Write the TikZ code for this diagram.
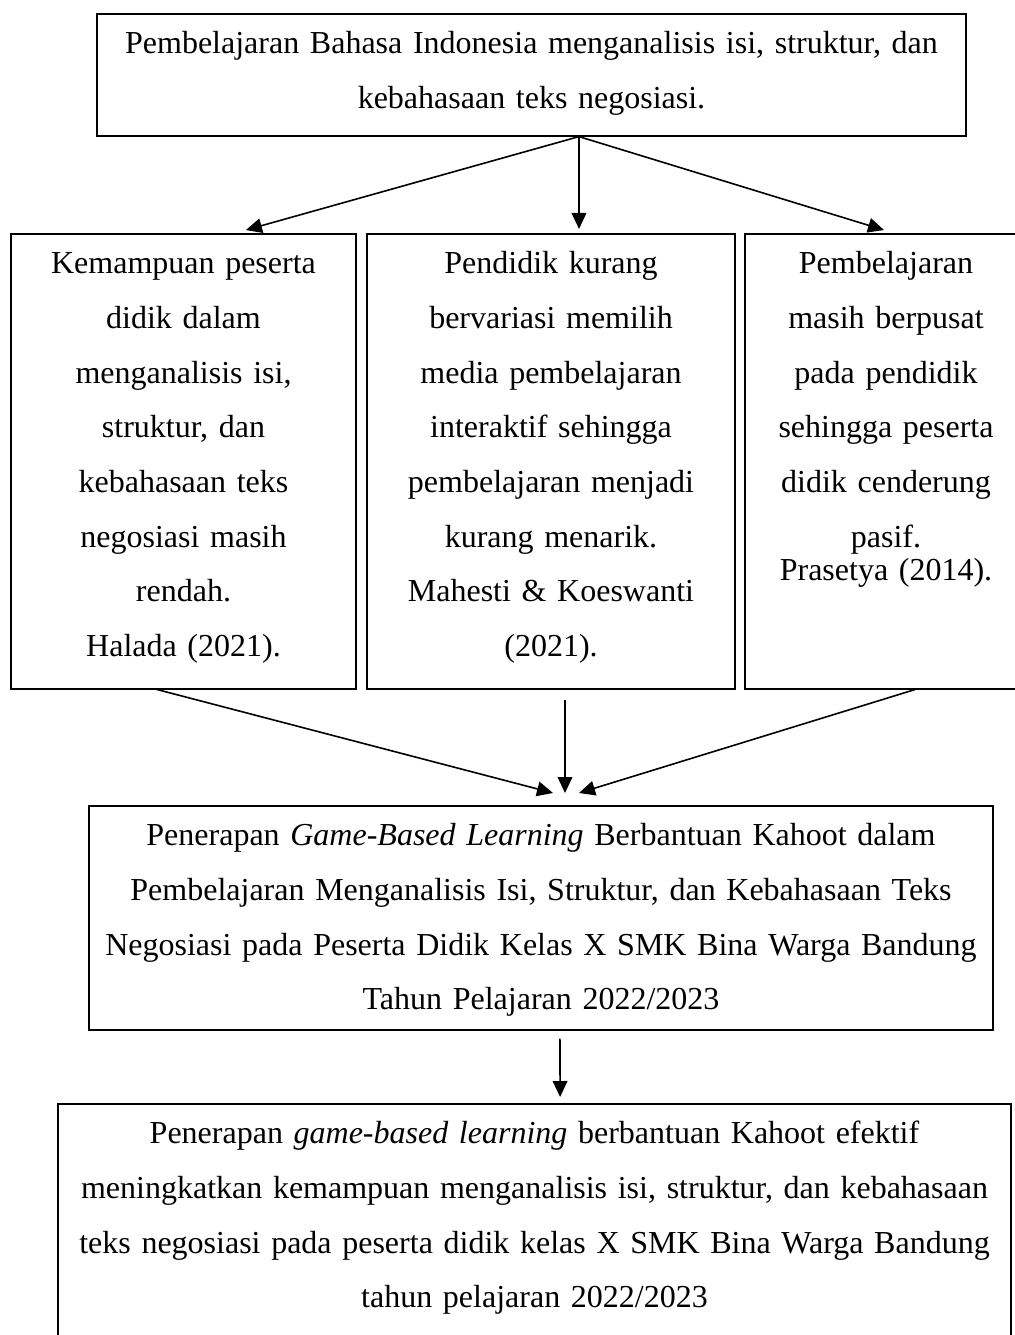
\documentclass[tikz,border=0pt]{standalone}
\usepackage{fontspec}
\setmainfont{Liberation Serif}
\usetikzlibrary{arrows.meta}

\begin{document}
\begin{tikzpicture}[x=0.375pt, y=-0.375pt, >={Triangle[length=6pt,width=5.5pt]},
  font=\fontsize{12}{20.5}\selectfont,
  box/.style={draw, line width=0.6pt, align=center, anchor=north,
    inner xsep=4pt, inner ysep=3pt, text height=12pt},
  link/.style={->, line width=0.6pt}]
\useasboundingbox (0,0) rectangle (1014,1335);
% --- topik ---
\node[box, text width=317.9pt, text depth=27.75pt] (topik) at (531.5,13)
  {Pembelajaran Bahasa Indonesia menganalisis isi, struktur, dan\\
   kebahasaan teks negosiasi.};
% --- tiga masalah ---
\node[box, text width=121.4pt, text depth=152.6pt] (kemampuan) at (183.5,233)
  {Kemampuan peserta\\ didik dalam\\ menganalisis isi,\\ struktur, dan\\
   kebahasaan teks\\ negosiasi masih\\ rendah.\\ Halada (2021).};
\node[box, text width=130pt, text depth=152.6pt] (pendidik) at (551,233)
  {Pendidik kurang\\ bervariasi memilih\\ media pembelajaran\\ interaktif sehingga\\
   pembelajaran menjadi\\ kurang menarik.\\ Mahesti \& Koeswanti\\ (2021).};
\node[box, text width=97.75pt, text depth=152.6pt] (berpusat) at (886,233)
  {Pembelajaran\\ masih berpusat\\ pada pendidik\\ sehingga peserta\\
   didik cenderung\\ pasif.\\[-8.1pt] Prasetya (2014).};
% --- penerapan dan hasil ---
\node[box, text width=331pt, text depth=66pt] (penerapan) at (541,805)
  {Penerapan \textit{Game-Based Learning} Berbantuan Kahoot dalam\\
   Pembelajaran Menganalisis Isi, Struktur, dan Kebahasaan Teks\\
   Negosiasi pada Peserta Didik Kelas X SMK Bina Warga Bandung\\
   Tahun Pelajaran 2022/2023};
\node[box, text width=349.4pt, text depth=75pt] (hasil) at (534.5,1103)
  {Penerapan \textit{game-based learning} berbantuan Kahoot efektif\\
   meningkatkan kemampuan menganalisis isi, struktur, dan kebahasaan\\
   teks negosiasi pada peserta didik kelas X SMK Bina Warga Bandung\\
   tahun pelajaran 2022/2023};
% --- panah ---
\draw[link] ([xshift=17.8pt]topik.south) -- ([xshift=23.4pt,yshift=1.1pt]kemampuan.north);
\draw[link] ([xshift=17.8pt]topik.south) -- ([xshift=10.5pt,yshift=1.5pt]pendidik.north);
\draw[link] ([xshift=17.8pt]topik.south) -- ([xshift=-0.75pt,yshift=1.1pt]berpusat.north);
\draw[link] ([xshift=-9.9pt]kemampuan.south) -- ([xshift=4.5pt,yshift=4.5pt]penerapan.north);
\draw[link] ([xshift=5.25pt,yshift=-4.1pt]pendidik.south) -- ([xshift=9pt,yshift=4.5pt]penerapan.north);
\draw[link] ([xshift=10.9pt]berpusat.south) -- ([xshift=14.25pt,yshift=4.5pt]penerapan.north);
\draw[link] ([xshift=7.1pt,yshift=-3pt]penerapan.south) -- ([xshift=9.6pt,yshift=2.25pt]hasil.north);
\end{tikzpicture}
\end{document}
